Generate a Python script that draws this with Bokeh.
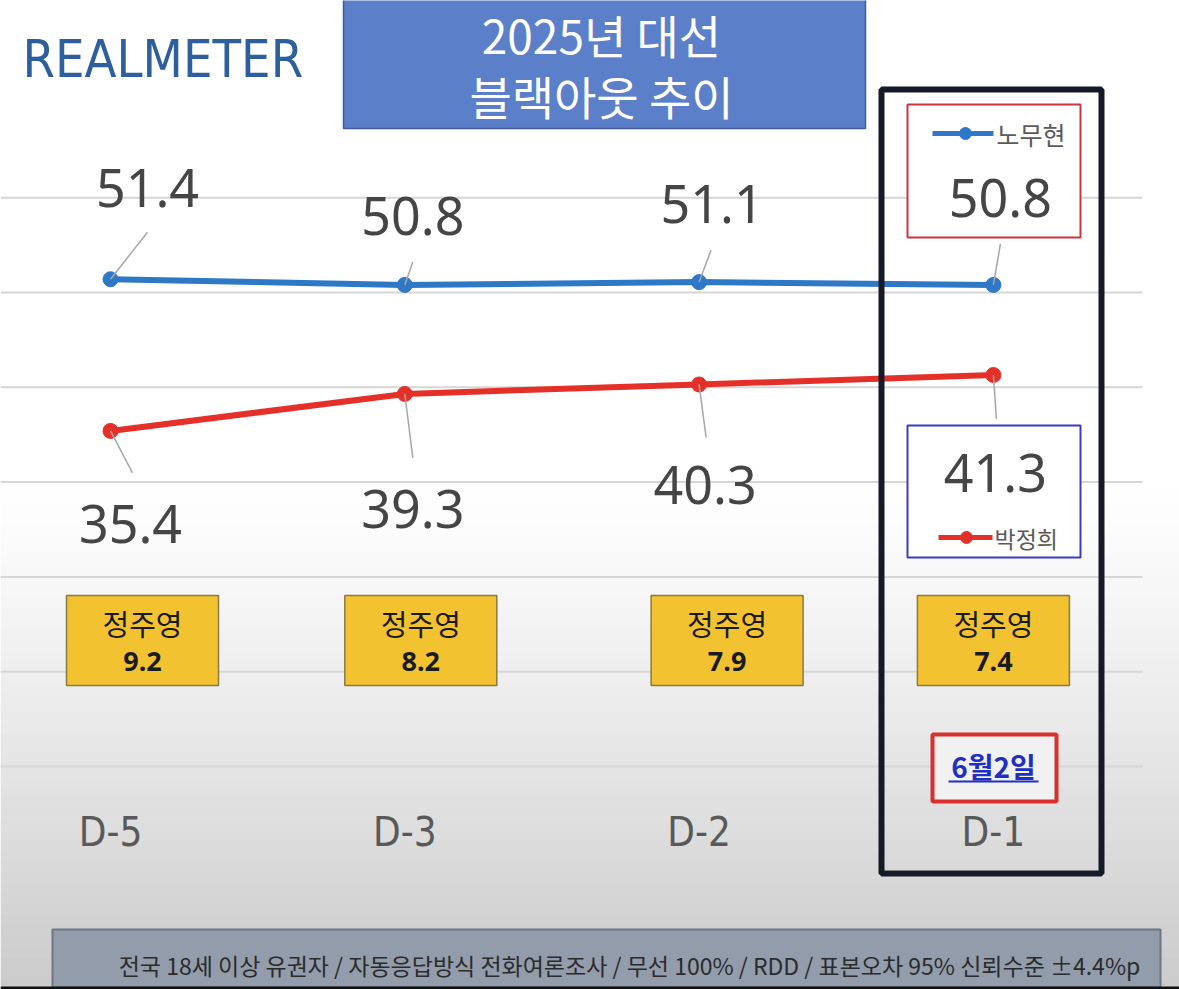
from bokeh.plotting import figure
from bokeh.models import Range1d
from bokeh.core.properties import value
from bokeh.embed import file_html
from bokeh.resources import INLINE

# ---------------- data ----------------
days = ["D-5", "D-3", "D-2", "D-1"]
roh = [51.4, 50.8, 51.1, 50.8]
park = [35.4, 39.3, 40.3, 41.3]
chung = [9.2, 8.2, 7.9, 7.4]
name_roh = "노무현"
name_park = "박정희"
name_chung = "정주영"
title_lines = ["2025년 대선", "블랙아웃 추이"]
brand = "REALMETER"
date_note = "6월2일"
footer = "전국 18세 이상 유권자 / 자동응답방식 전화여론조사 / 무선 100% / RDD / 표본오차 95% 신뢰수준 ±4.4%p"
grid_vals = [0, 10, 20, 30, 40, 50, 60]

# ---------------- layout helpers (pixel <-> data) ----------------
W, H = 1179, 989
X0, DX = 110.0, 294.3
Y0, SY = 766.0, 9.48


def fx(px):
    return (px - X0) / DX


def fy(py):
    return (Y0 - py) / SY


KR = value("Noto Sans CJK KR")
NUM = value("Noto Sans")
NARROW = value("'DejaVu Sans Condensed', 'DejaVu Sans', sans-serif")

xs = list(range(len(days)))

p = figure(width=W, height=H, x_range=Range1d(fx(0), fx(W)), y_range=Range1d(fy(H), fy(0)),
           output_backend="svg", toolbar_location=None, min_border=0)
p.axis.visible = False
p.grid.visible = False
p.outline_line_color = None
p.background_fill_color = "white"
p.border_fill_color = "white"

# background gradient (style only)
n = 48
top_px = 480.0
lefts, rights, tops, bottoms, cols = [], [], [], [], []
for k in range(n):
    a = top_px + (H - top_px) * k / n
    b = top_px + (H - top_px) * (k + 1) / n + 1.0
    t = (k + 0.5) / n
    c = int(round(255 - (t ** 1.2) * (255 - 202)))
    lefts.append(fx(0)); rights.append(fx(W)); tops.append(fy(a)); bottoms.append(fy(b))
    cols.append("#%02x%02x%02x" % (c, c, c))
p.quad(left=lefts, right=rights, top=tops, bottom=bottoms, fill_color=cols, line_color=None)

# gridlines
p.segment(x0=[fx(0)] * len(grid_vals), x1=[fx(1142)] * len(grid_vals), y0=grid_vals, y1=grid_vals,
          line_color="#d6d6d6", line_width=2)

# brand
p.text(x=[fx(22)], y=[fy(58)], text=[brand], text_font=NARROW, text_font_size="52px",
       text_color="#2d5f9e", text_align="left", text_baseline="middle")

# title box
p.quad(left=[fx(343)], right=[fx(865)], top=[fy(-5)], bottom=[fy(128)],
       fill_color="#5b7fc8", line_color="#3f5c98", line_width=1.5)
p.text(x=[fx(601)] * 2, y=[fy(33), fy(94)], text=title_lines, text_font=KR, text_font_size="46px",
       text_color="white", text_align="center", text_baseline="middle")

# series lines
BLUE = "#2e78c7"
RED = "#e5302a"
p.line(xs, roh, line_color=BLUE, line_width=6)
p.scatter(xs, roh, size=15, color=BLUE)
p.line(xs, park, line_color=RED, line_width=6)
p.scatter(xs, park, size=15, color=RED)

# leader lines & data labels (pixel offsets as style)
roh_lead = [(37, -47), (8, -23), (12, -32), (7, -41)]
park_lead = [(22, 42), (8, 64), (7, 53), (3, 44)]
roh_lbl = [(37, -91), (8, -69), (13, -78), (7, -87)]
park_lbl = [(20, 93), (8, 115), (6, 101), (2, 98)]

lx0, lx1, ly0, ly1 = [], [], [], []
for i, v in enumerate(roh):
    lx0.append(i); ly0.append(v)
    lx1.append(i + roh_lead[i][0] / DX); ly1.append(v - roh_lead[i][1] / SY)
for i, v in enumerate(park):
    lx0.append(i); ly0.append(v)
    lx1.append(i + park_lead[i][0] / DX); ly1.append(v - park_lead[i][1] / SY)
p.segment(x0=lx0, y0=ly0, x1=lx1, y1=ly1, line_color="#a6a6a6", line_width=1.5)

# legend / highlight boxes (white fill)
p.quad(left=[fx(907)], right=[fx(1080)], top=[fy(104)], bottom=[fy(237)],
       fill_color="white", line_color="#c8353c", line_width=2)
p.quad(left=[fx(907)], right=[fx(1080)], top=[fy(425)], bottom=[fy(557)],
       fill_color="white", line_color="#3b3bbf", line_width=2)

p.text(x=[i + roh_lbl[i][0] / DX for i in xs], y=[roh[i] - roh_lbl[i][1] / SY for i in xs],
       text=["%.1f" % v for v in roh], text_font=NUM, text_font_size="52px", text_color="#454545",
       text_align="center", text_baseline="middle")
p.text(x=[i + park_lbl[i][0] / DX for i in xs], y=[park[i] - park_lbl[i][1] / SY for i in xs],
       text=["%.1f" % v for v in park], text_font=NUM, text_font_size="52px", text_color="#454545",
       text_align="center", text_baseline="middle")

# legend entries
p.line([fx(932), fx(993)], [fy(133), fy(133)], line_color=BLUE, line_width=5)
p.scatter([fx(965)], [fy(133)], size=12, color=BLUE)
p.text(x=[fx(996)], y=[fy(133)], text=[name_roh], text_font=KR, text_font_size="25px",
       text_color="#595959", text_align="left", text_baseline="middle")
p.line([fx(938), fx(992)], [fy(537), fy(537)], line_color=RED, line_width=5)
p.scatter([fx(966)], [fy(537)], size=12, color=RED)
p.text(x=[fx(994)], y=[fy(537)], text=[name_park], text_font=KR, text_font_size="23px",
       text_color="#595959", text_align="left", text_baseline="middle")

# third-candidate boxes
box_dx = [32, 16, 28, 0]
bx = [i + box_dx[i] / DX for i in xs]
p.rect(x=bx, y=[fy(640)] * 4, width=152, height=90, width_units="screen", height_units="screen",
       fill_color="#f2c230", line_color="#8a7a45", line_width=1.5)
p.text(x=bx, y=[fy(622)] * 4, text=[name_chung] * 4, text_font=KR, text_font_size="29px",
       text_color="#1a1a1a", text_align="center", text_baseline="middle")
p.text(x=bx, y=[fy(661)] * 4, text=["%.1f" % v for v in chung], text_font=NUM, text_font_size="27px",
       text_font_style="bold", text_color="#1a1a1a", text_align="center", text_baseline="middle")

# date note
p.quad(left=[fx(932)], right=[fx(1056)], top=[fy(734)], bottom=[fy(801)],
       fill_color="#f1f1f1", line_color="#d8302f", line_width=4)
p.text(x=[fx(993)], y=[fy(765)], text=[date_note], text_font=KR, text_font_size="28px",
       text_font_style="bold", text_color="#1f2fbf", text_align="center", text_baseline="middle")
p.segment(x0=[fx(948)], x1=[fx(1038)], y0=[fy(781)], y1=[fy(781)], line_color="#1f2fbf", line_width=2)

# x labels
p.text(x=xs, y=[fy(831)] * 4, text=days, text_font=NARROW, text_font_size="40px",
       text_color="#595959", text_align="center", text_baseline="middle")

# black highlight frame
p.quad(left=[fx(881)], right=[fx(1101)], top=[fy(89)], bottom=[fy(873)],
       fill_color=None, line_color="#151a26", line_width=6)

# footer
p.quad(left=[fx(52)], right=[fx(1160)], top=[fy(929)], bottom=[fy(987)],
       fill_color="#939cab", line_color="#6d7683", line_width=2)
p.quad(left=[fx(0)], right=[fx(W)], top=[fy(986)], bottom=[fy(H + 2)], fill_color="#111111", line_color=None)
p.text(x=[fx(629)], y=[fy(964)], text=[footer], text_font=KR, text_font_size="23px",
       text_color="#2b2b2b", text_align="center", text_baseline="middle")

open("out.html", "w").write(file_html(p, INLINE))
